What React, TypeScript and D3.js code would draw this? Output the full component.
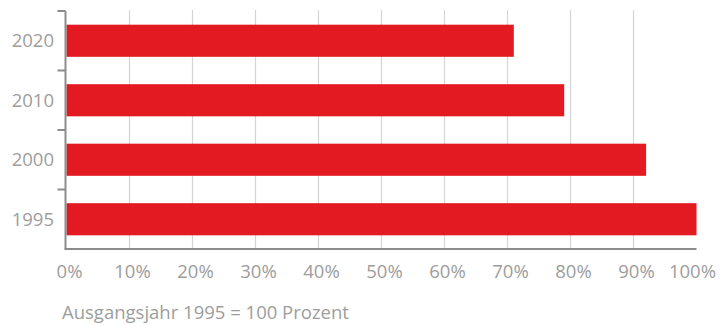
import React from "react";
import * as d3 from "d3";

// Years (top to bottom) and their index relative to 1995 (= 100 %)
const years = ["2020", "2010", "2000", "1995"];
const values = [71, 79, 92, 100];
const xTicks = [0, 10, 20, 30, 40, 50, 60, 70, 80, 90, 100];
const footnote = "Ausgangsjahr 1995 = 100 Prozent";

const W = 720;
const H = 325;
const FONT = "'Open Sans', 'Noto Sans', sans-serif";
const FS = 18.5;
const TEXT = "#9d9d9d";
const AXIS = "#8c8c8c";
const GRID = "#d4d4d4";
const RED = "#e31a22";

export default function App() {
  const x = d3.scaleLinear().domain([0, 100]).range([66.5, 696.5]);
  const y = d3
    .scaleBand<string>()
    .domain(years)
    .range([11, 249])
    .paddingInner(0.46)
    .paddingOuter(0.23);
  const step = y.step();
  const bw = y.bandwidth();
  const [y0, y1] = y.range();
  const gap = (step * y.paddingInner()) / 2;

  return (
    <svg
      width={W}
      height={H}
      viewBox={`0 0 ${W} ${H}`}
      style={{ position: "absolute", left: 0, top: 0, display: "block", background: "#fff" }}
    >
      {/* vertical gridlines */}
      {xTicks
        .filter((t) => t > 0 && t < 100)
        .map((t) => (
          <line key={`g${t}`} x1={x(t)} x2={x(t)} y1={y0 - 1} y2={y1} stroke={GRID} strokeWidth={1.2} />
        ))}

      {/* bars */}
      {years.map((yr, i) => (
        <rect key={yr} x={x(0)} y={y(yr)} width={x(values[i]) - x(0)} height={bw} fill={RED} />
      ))}

      {/* axes */}
      <line x1={x(0) - 1} x2={x(0) - 1} y1={y0} y2={y1} stroke={AXIS} strokeWidth={2} />
      <line x1={x(0) - 2} x2={x(100)} y1={y1} y2={y1} stroke={AXIS} strokeWidth={2} />
      {years.map((yr) => {
        const ty = (y(yr) as number) - gap;
        return <line key={`t${yr}`} x1={57.5} x2={x(0) - 1} y1={ty} y2={ty} stroke={AXIS} strokeWidth={2} />;
      })}

      {/* category labels */}
      {years.map((yr) => (
        <text
          key={`l${yr}`}
          x={54}
          y={(y(yr) as number) + bw / 2}
          dy="0.36em"
          textAnchor="end"
          fontFamily={FONT}
          fontSize={FS}
          fill={TEXT}
        >
          {yr}
        </text>
      ))}

      {/* percent tick labels; the last one is kept inside the frame */}
      {xTicks.map((t, i) => {
        const last = i === xTicks.length - 1;
        return (
          <text
            key={`x${t}`}
            x={last ? 716 : x(t) + 3}
            y={278}
            textAnchor={last ? "end" : "middle"}
            fontFamily={FONT}
            fontSize={FS}
            fill={TEXT}
          >
            {`${t}%`}
          </text>
        );
      })}

      <text x={62} y={319} fontFamily={FONT} fontSize={FS} fill={TEXT}>
        {footnote}
      </text>
    </svg>
  );
}
